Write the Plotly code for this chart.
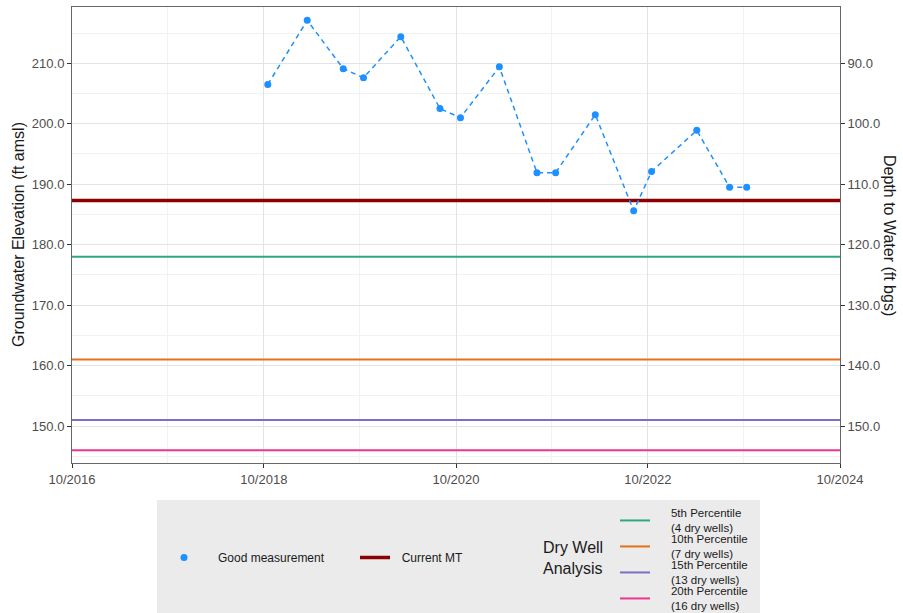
import plotly.graph_objects as go

# ---- data ----
meas_dates = ["2018-10-16", "2019-03-15", "2019-07-30", "2019-10-15", "2020-03-05",
              "2020-08-01", "2020-10-18", "2021-03-15", "2021-08-05", "2021-10-15",
              "2022-03-15", "2022-08-08", "2022-10-15", "2023-04-05", "2023-08-08",
              "2023-10-12"]
meas_elev = [206.5, 217.1, 209.1, 207.6, 214.4, 202.5, 201.0, 209.4, 191.9, 191.9,
             201.5, 185.6, 192.1, 198.9, 189.5, 189.5]

current_mt = 187.3
dry_labels = ["5th Percentile<br>(4 dry wells)", "10th Percentile<br>(7 dry wells)",
              "15th Percentile<br>(13 dry wells)", "20th Percentile<br>(16 dry wells)"]
dry_values = [178.0, 161.0, 151.0, 146.0]
dry_colors = ["#2fa882", "#e3711c", "#7a6fc4", "#ea3592"]

x_range = ["2016-10-01", "2024-10-01"]
y_range = [143.9, 219.3]
ref_point = 300.0  # depth = ref_point - elevation

# ---- layout helpers (pixel -> paper) ----
L, R, T, B = 72, 63, 7, 150
W, H = 903, 613
PW, PH = W - L - R, H - T - B
def px(x):
    return (x - L) / PW
def py(y):
    return (H - B - y) / PH

def pad(label, n):
    sp = "&nbsp;" * n
    return "<br>".join(sp + part for part in label.split("<br>"))

fig = go.Figure()

dry_legend_names = ["legend3", "legend4", "legend5", "legend6"]
for lab, val, col, lg in zip(dry_labels, dry_values, dry_colors, dry_legend_names):
    fig.add_trace(go.Scatter(x=x_range, y=[val, val], mode="lines", name=pad(lab, 5),
                             line=dict(color=col, width=2), legend=lg,
                             hoverinfo="skip"))

fig.add_trace(go.Scatter(x=x_range, y=[current_mt, current_mt], mode="lines",
                         name=pad("Current MT", 2), line=dict(color="#8b0000", width=3.5),
                         legend="legend2"))

fig.add_trace(go.Scatter(x=meas_dates, y=meas_elev, mode="lines",
                         line=dict(color="#1e90ff", width=1.5, dash="5px,4px"),
                         showlegend=False))
fig.add_trace(go.Scatter(x=meas_dates, y=meas_elev, mode="markers",
                         name="Good measurement",
                         marker=dict(color="#1e90ff", size=7), legend="legend"))

# invisible trace for secondary axis
fig.add_trace(go.Scatter(x=[x_range[0]], y=[ref_point - y_range[0]], yaxis="y2",
                         mode="markers", marker=dict(opacity=0), showlegend=False,
                         hoverinfo="skip"))

tickfont = dict(family="Liberation Sans, Arial, sans-serif", size=13, color="#4d4d4d")
legfont = dict(family="Liberation Sans, Arial, sans-serif", size=12, color="#1a1a1a")
legfont3 = dict(family="Liberation Sans, Arial, sans-serif", size=11.5, color="#1a1a1a")

def leg(x, ytop, font, iw):
    return dict(xref="container", yref="container", x=x / W, y=1 - ytop / H,
                xanchor="left", yanchor="top", bgcolor="rgba(0,0,0,0)",
                font=font, itemwidth=iw, borderwidth=0)

layout_legends = {
    "legend": leg(150, 543, legfont, 58),
    "legend2": leg(355, 543, legfont, 30),
}
for i, lg in enumerate(dry_legend_names):
    layout_legends[lg] = leg(615, 499 + 26 * i, legfont3, 30)

fig.update_layout(
    width=W, height=H,
    margin=dict(l=L, r=R, t=T, b=B, autoexpand=False),
    paper_bgcolor="white", plot_bgcolor="white",
    font=dict(family="Liberation Sans, Arial, sans-serif"),
    xaxis=dict(type="date", range=x_range, tick0="2016-10-01", dtick="M24",
               tickformat="%m/%Y", tickfont=tickfont, ticks="outside", ticklen=4,
               tickcolor="#333333", showline=True, linecolor="#666666", linewidth=1,
               mirror=True, gridcolor="#e3e3e3", gridwidth=1, zeroline=False,
               minor=dict(dtick="M12", tick0="2016-10-01", showgrid=True,
                          gridcolor="#f2f2f2", gridwidth=1)),
    yaxis=dict(range=y_range, tick0=150, dtick=10, tickformat=".1f", tickfont=tickfont,
               ticks="outside", ticklen=4, tickcolor="#333333", showline=True,
               linecolor="#666666", linewidth=1, gridcolor="#e3e3e3", zeroline=False,
               minor=dict(tick0=145, dtick=10, showgrid=True, gridcolor="#f2f2f2")),
    yaxis2=dict(range=[ref_point - y_range[0], ref_point - y_range[1]], overlaying="y",
                side="right", tick0=90, dtick=10, tickformat=".1f", tickfont=tickfont,
                ticks="outside", ticklen=4, tickcolor="#333333", showline=True,
                linecolor="#666666", linewidth=1, showgrid=False, zeroline=False),
    showlegend=True,
    **layout_legends,
)

fig.add_shape(type="rect", xref="paper", yref="paper", x0=px(157), x1=px(760),
              y0=py(620), y1=py(500), fillcolor="#ebebeb", line=dict(width=0),
              layer="below")

fig.add_annotation(text="Groundwater Elevation (ft amsl)", xref="paper", yref="paper",
                   x=px(18), y=py(235), xanchor="center", yanchor="middle",
                   textangle=-90, showarrow=False,
                   font=dict(size=16, color="#1a1a1a"))
fig.add_annotation(text="Depth to Water (ft bgs)", xref="paper", yref="paper",
                   x=px(890), y=py(235), xanchor="center", yanchor="middle",
                   textangle=90, showarrow=False,
                   font=dict(size=16, color="#1a1a1a"))
fig.add_annotation(text="Dry Well<br>Analysis", xref="paper", yref="paper",
                   x=px(541), y=py(558), xanchor="left", yanchor="middle",
                   align="left", showarrow=False,
                   font=dict(size=16, color="#1a1a1a"))

fig.write_html("out.html")
